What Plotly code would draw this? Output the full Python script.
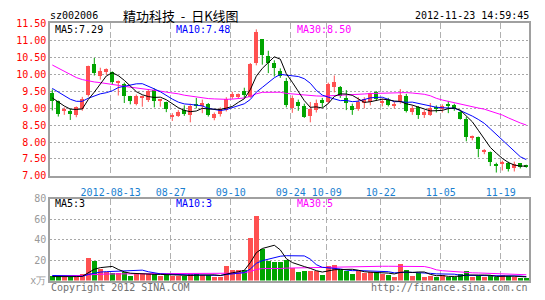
import pandas as pd
import numpy as np
import plotly.graph_objects as go

W, H = 545, 300

# ---------------- data ----------------
holidays = ["2012-10-01", "2012-10-02", "2012-10-03", "2012-10-04", "2012-10-05"]
dates = [d.strftime("%Y-%m-%d") for d in pd.bdate_range("2012-07-30", "2012-11-23")
         if d.strftime("%Y-%m-%d") not in holidays]

open_ = [9.43, 9.20, 8.92, 8.90, 8.78, 8.97, 9.37, 10.29, 9.93, 10.05,
         10.05, 9.75, 9.70, 9.34, 9.11, 9.29, 9.23, 9.53, 9.22, 9.17,
         8.74, 8.77, 8.93, 8.80, 9.10, 9.06, 9.11, 8.71, 8.83, 8.95,
         9.32, 9.33, 9.49, 9.33, 10.31, 11.02, 10.52, 10.31, 10.09, 9.79,
         9.00, 9.18, 9.06, 8.77, 8.94, 9.23, 9.18, 9.60, 9.60, 9.30,
         9.06, 8.96, 9.15, 9.18, 9.46, 9.13, 9.23, 9.06, 9.18, 9.34,
         8.87, 9.02, 8.80, 8.80, 9.02, 8.99, 9.11, 9.08, 8.87, 8.68,
         8.13, 8.14, 7.71, 7.70, 7.32, 7.35, 7.36, 7.23, 7.36, 7.31]
high = [9.55, 9.22, 9.02, 8.98, 9.05, 9.33, 10.25, 10.48, 10.19, 10.17,
        10.08, 9.81, 9.75, 9.36, 9.40, 9.37, 9.56, 9.58, 9.27, 9.19,
        8.85, 8.94, 9.08, 9.13, 9.30, 9.25, 9.15, 8.87, 9.02, 9.32,
        9.48, 9.43, 9.60, 10.33, 11.32, 11.03, 10.69, 10.41, 10.17, 9.89,
        9.37, 9.25, 9.13, 9.18, 9.25, 9.30, 9.75, 9.96, 9.65, 9.53,
        9.13, 9.32, 9.32, 9.46, 9.50, 9.28, 9.30, 9.18, 9.56, 9.42,
        9.08, 9.06, 8.94, 9.15, 9.08, 9.11, 9.21, 9.13, 8.92, 8.74,
        8.19, 8.16, 7.79, 7.72, 7.39, 7.45, 7.42, 7.42, 7.38, 7.33]
low = [8.93, 8.75, 8.80, 8.65, 8.73, 8.92, 9.34, 9.96, 9.84, 9.98,
       9.70, 9.37, 9.15, 9.11, 9.08, 9.04, 9.18, 9.02, 9.04, 8.88,
       8.62, 8.74, 8.77, 8.58, 8.99, 8.85, 8.75, 8.64, 8.75, 8.90,
       9.27, 9.27, 9.30, 9.30, 10.26, 10.28, 10.03, 9.93, 9.89, 9.02,
       8.86, 8.92, 8.71, 8.58, 8.87, 9.02, 9.13, 9.46, 9.30, 8.94,
       8.80, 8.92, 8.99, 9.08, 9.22, 9.05, 9.05, 8.99, 9.13, 8.87,
       8.80, 8.68, 8.71, 8.77, 8.87, 8.87, 8.85, 8.92, 8.66, 8.02,
       8.05, 7.55, 7.64, 7.29, 7.10, 7.16, 7.13, 7.13, 7.22, 7.24]
close = [9.20, 8.82, 8.95, 8.82, 9.01, 9.27, 10.22, 10.03, 10.08, 10.13,
         9.76, 9.78, 9.34, 9.20, 9.34, 9.31, 9.51, 9.21, 9.24, 8.96,
         8.76, 8.89, 8.81, 9.05, 9.06, 9.15, 8.80, 8.83, 8.96, 9.25,
         9.40, 9.40, 9.37, 10.30, 11.23, 10.55, 10.31, 10.17, 9.95, 9.08,
         9.30, 9.04, 8.73, 8.96, 9.15, 9.13, 9.70, 9.77, 9.34, 9.13,
         8.94, 9.18, 9.25, 9.43, 9.27, 9.19, 9.08, 9.07, 9.37, 8.92,
         9.00, 8.78, 8.88, 9.00, 8.96, 9.04, 9.04, 8.97, 8.68, 8.14,
         8.15, 7.79, 7.73, 7.39, 7.30, 7.37, 7.20, 7.34, 7.25, 7.28]
volume = [4.5, 4.2, 3.3, 3.3, 4.0, 6.0, 22.5, 19.5, 11.3, 8.5,
          7.5, 7.5, 8.0, 4.5, 6.5, 6.5, 6.5, 6.5, 4.3, 5.5,
          4.3, 4.3, 4.3, 6.7, 6.7, 5.5, 5.5, 3.5, 3.5, 14.8,
          10.7, 10.7, 10.4, 41.5, 63.1, 31.4, 19.3, 17.8, 18.7, 20.2,
          12.3, 8.2, 9.2, 9.8, 9.2, 5.3, 13.9, 14.9, 10.7, 9.8,
          6.0, 9.2, 7.6, 8.5, 8.5, 6.6, 5.3, 3.4, 16.5, 10.1,
          4.4, 7.6, 3.4, 5.0, 3.4, 5.3, 3.4, 3.4, 6.0, 9.2,
          3.4, 5.0, 3.4, 5.0, 3.4, 5.3, 4.4, 3.4, 2.2, 2.8]

# moving-average values at the start of the window (read from the chart,
# their windows reach back before the first visible day)
ma5_head = [9.30, 9.18, 9.06, 8.97]
ma10_head = [9.58, 9.47, 9.35, 9.26, 9.20, 9.20, 9.29, 9.36, 9.42]
ma30_head = [10.27, 10.18, 10.08, 10.00, 9.90, 9.84, 9.80, 9.77, 9.75, 9.73,
             9.70, 9.67, 9.64, 9.62, 9.59, 9.57, 9.55, 9.53, 9.50, 9.47,
             9.45, 9.42, 9.38, 9.35, 9.32, 9.30, 9.28, 9.27, 9.26]
vma5_head = [3.9, 3.8, 3.7, 3.7]
vma10_head = [5.0, 4.7, 4.4, 4.1, 3.9, 4.1, 6.0, 7.5, 8.3]
vma30_head = [4.8, 4.8, 4.9, 4.9, 5.0, 5.0, 5.6, 6.1, 6.3, 6.4,
              6.5, 6.5, 6.6, 6.6, 6.6, 6.7, 6.7, 6.7, 6.7, 6.7,
              6.7, 6.7, 6.7, 6.8, 6.8, 6.8, 6.8, 6.8, 6.8]

tick_dates = ["2012-08-13", "2012-08-27", "2012-09-10", "2012-09-24", "2012-10-09",
              "2012-10-22", "2012-11-05", "2012-11-19"]
tick_labels = ["2012-08-13", "08-27", "09-10", "09-24", "10-09", "10-22", "11-05", "11-19"]

stock_code = "sz002006"
title_text = "精功科技\u00a0\u00a0-\u00a0\u00a0日K线图"
time_text = "2012-11-23 14:59:45"

# ---------------- derived ----------------
n = len(dates)
idx = np.arange(n)
o = np.array(open_); hh = np.array(high); ll = np.array(low); c = np.array(close)
v = np.array(volume)


def moving(series, win, head):
    m = pd.Series(series).rolling(win).mean().to_numpy()
    m[:len(head)] = head
    return m


ma5 = moving(c, 5, ma5_head)
ma10 = moving(c, 10, ma10_head)
ma30 = moving(c, 30, ma30_head)
vma5 = moving(v, 5, vma5_head)
vma10 = moving(v, 10, vma10_head)
vma30 = moving(v, 30, vma30_head)

RED = "#ff5050"
GREEN = "#00a400"
up = c >= o

fig = go.Figure()

# wicks
for mask, col in [(up, RED), (~up, GREEN)]:
    xs, ys = [], []
    for i in idx[mask]:
        xs += [i, i, None]
        ys += [ll[i], hh[i], None]
    fig.add_trace(go.Scatter(x=xs, y=ys, mode="lines", line=dict(color=col, width=1),
                             xaxis="x", yaxis="y", hoverinfo="skip"))
# bodies
for mask, col in [(up, RED), (~up, GREEN)]:
    base = np.minimum(o, c)[mask]
    hgt = np.maximum(np.abs(c - o)[mask], 0.03)
    fig.add_trace(go.Bar(x=idx[mask], y=hgt, base=base, width=0.7,
                         marker=dict(color=col, line=dict(width=0)),
                         xaxis="x", yaxis="y", hoverinfo="skip"))
# price MAs
for m, col in [(ma30, "#ff00ff"), (ma10, "#0000ff"), (ma5, "#000000")]:
    fig.add_trace(go.Scatter(x=idx, y=m, mode="lines", line=dict(color=col, width=1),
                             xaxis="x", yaxis="y", hoverinfo="skip"))
# volume bars
vcol = [RED if u else GREEN for u in up]
fig.add_trace(go.Bar(x=idx, y=v, width=0.82, marker=dict(color=vcol, line=dict(width=0)),
                     xaxis="x2", yaxis="y2", hoverinfo="skip"))
for m, col in [(vma30, "#ff00ff"), (vma10, "#0000ff"), (vma5, "#000000")]:
    fig.add_trace(go.Scatter(x=idx, y=m, mode="lines", line=dict(color=col, width=1),
                             xaxis="x2", yaxis="y2", hoverinfo="skip"))

# ---------------- layout ----------------
def px(x):
    return x / W


def py(y):
    return 1 - y / H


tick_pos = [dates.index(d) - 0.27 for d in tick_dates]
xr = [-0.383, 79.45]
MONO = "DejaVu Sans Mono"
FRAME = "#a0a0a0"

common_x = dict(range=xr, domain=[px(50), px(529)], showline=True, mirror=True,
                linecolor=FRAME, linewidth=1.5, zeroline=False, showgrid=True,
                gridcolor="#b0b0b0", griddash="6px,3px", gridwidth=1,
                tickvals=tick_pos, ticks="", fixedrange=True)

fig.update_layout(
    width=W, height=H, margin=dict(l=0, r=0, t=0, b=0),
    paper_bgcolor="white", plot_bgcolor="white",
    showlegend=False, barmode="overlay", bargap=0,
    xaxis=dict(common_x, anchor="y", ticktext=tick_labels,
               tickfont=dict(family=MONO, size=10, color="#1a7fd0"),
               ticklabelstandoff=6),
    xaxis2=dict(common_x, anchor="y2", showticklabels=False),
    yaxis=dict(domain=[py(177), py(18)], range=[7, 11.5], dtick=0.5, tick0=7,
               tickformat=".2f", showline=True, mirror=True, linecolor=FRAME,
               linewidth=1.5, showgrid=True, gridcolor="#a8a8a8", griddash="2px,2px",
               zeroline=False, ticks="", anchor="x",
               tickfont=dict(family=MONO, size=10, color="#ff0000")),
    yaxis2=dict(domain=[py(286), py(201)], range=[0, 80],
                tickvals=[0, 20, 40, 60, 80], ticktext=["x万", "20", "40", "60", "80"],
                showline=True, mirror=True, linecolor=FRAME, linewidth=1.5,
                showgrid=True, gridcolor="#a8a8a8", griddash="2px,2px",
                zeroline=False, ticks="", anchor="x2",
                tickfont=dict(family=MONO, size=10, color="#999999")),
)


def ann(text, x, y, color="#000", size=10, family=MONO, xanchor="left"):
    fig.add_annotation(text=text, x=px(x), y=py(y), xref="paper", yref="paper",
                       xanchor=xanchor, yanchor="middle", showarrow=False,
                       font=dict(family=family, size=size, color=color))


ann(stock_code, 48, 10)
ann(title_text, 121, 10, size=13, family="Noto Sans CJK SC")
ann(time_text, 531, 10)
fig.layout.annotations[-1].update(xanchor="right")

ann(f"MA5:{ma5[-1]:.2f}", 53, 24, color="#000000")
ann(f"MA10:{ma10[-1]:.2f}", 174, 24, color="#0000ff")
ann(f"MA30:{ma30[-1]:.2f}", 295, 24, color="#ff00ff")

ann(f"MA5:{int(vma5[-1])}", 53, 206, color="#000000")
ann(f"MA10:{int(vma10[-1])}", 174, 206, color="#0000ff")
ann(f"MA30:{int(vma30[-1])}", 295, 206, color="#ff00ff")

ann("Copyright 2012 SINA.COM", 49, 293, color="#707070")
ann("http://finance.sina.com.cn", 530, 293, color="#707070", xanchor="right")

fig.write_html("out.html")
